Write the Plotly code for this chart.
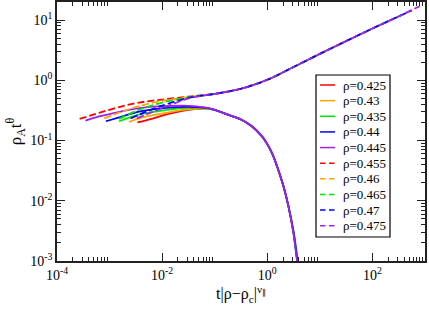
import plotly.graph_objects as go

# ---- data (x = t|rho-rho_c|^nu, y = rho_A t^theta) ----
labels = ["ρ=0.425", "ρ=0.43", "ρ=0.435", "ρ=0.44", "ρ=0.445",
          "ρ=0.455", "ρ=0.46", "ρ=0.465", "ρ=0.47", "ρ=0.475"]
colors = ["#FF0000", "#FFA500", "#00E600", "#0000FF", "#A020F0",
          "#FF0000", "#FFA500", "#00E600", "#0000FF", "#A020F0"]
dashed = [False, False, False, False, False, True, True, True, True, True]

# absorbing side (solid)
x_425 = [3.39e-3, 6.31e-3, 0.0126, 0.0316, 0.0631, 0.1, 0.178, 0.316, 0.501, 0.794, 1.0, 1.26, 1.58, 2.0, 2.51, 3.16, 3.55, 3.98]
y_425 = [0.200, 0.229, 0.275, 0.324, 0.339, 0.324, 0.269, 0.224, 0.174, 0.117, 0.0871, 0.0589, 0.0347, 0.0182, 0.00832, 0.00295, 0.00141, 0.000631]
x_430 = [2.34e-3, 3.63e-3, 8.71e-3, 0.0251, 0.0631, 0.1, 0.178, 0.316, 0.501, 0.794, 1.0, 1.26, 1.58, 2.0, 2.51, 3.16, 3.55, 3.98]
y_430 = [0.204, 0.234, 0.275, 0.324, 0.339, 0.324, 0.269, 0.224, 0.174, 0.117, 0.0871, 0.0589, 0.0347, 0.0182, 0.00832, 0.00295, 0.00141, 0.000631]
x_435 = [1.51e-3, 3.63e-3, 8.71e-3, 0.0251, 0.0631, 0.1, 0.178, 0.316, 0.501, 0.794, 1.0, 1.26, 1.58, 2.0, 2.51, 3.2, 3.62, 4.05]
y_435 = [0.209, 0.269, 0.309, 0.347, 0.347, 0.324, 0.269, 0.224, 0.174, 0.117, 0.0871, 0.0589, 0.0347, 0.0182, 0.00832, 0.00295, 0.00141, 0.000631]
x_440 = [8.51e-4, 1.58e-3, 3.63e-3, 8.71e-3, 0.0251, 0.0631, 0.1, 0.178, 0.316, 0.501, 0.794, 1.0, 1.26, 1.58, 2.0, 2.51, 3.16, 3.55, 3.98]
y_440 = [0.209, 0.245, 0.302, 0.339, 0.363, 0.351, 0.324, 0.269, 0.224, 0.174, 0.117, 0.0871, 0.0589, 0.0347, 0.0182, 0.00832, 0.00295, 0.00141, 0.000631]
x_445 = [3.47e-4, 6.31e-4, 1.26e-3, 3.16e-3, 0.01, 0.0251, 0.0631, 0.1, 0.178, 0.316, 0.501, 0.794, 1.0, 1.26, 1.58, 2.0, 2.51, 3.13, 3.5, 3.92]
y_445 = [0.214, 0.251, 0.288, 0.339, 0.372, 0.380, 0.355, 0.324, 0.269, 0.224, 0.174, 0.117, 0.0871, 0.0589, 0.0347, 0.0182, 0.00832, 0.00295, 0.00141, 0.000631]

# active side (dashed)
x_455 = [2.69e-4, 6.31e-4, 1.58e-3, 3.63e-3, 0.01, 0.0316, 0.1, 0.316, 1.0, 3.16, 10.0, 31.6, 70.8]
y_455 = [0.229, 0.288, 0.363, 0.427, 0.479, 0.537, 0.596, 0.724, 1.02, 1.66, 2.75, 4.47, 6.3]
x_460 = [7.94e-4, 1.58e-3, 3.63e-3, 0.01, 0.0316, 0.1, 0.316, 1.0, 3.16, 10.0, 31.6, 100.0, 200.0]
y_460 = [0.234, 0.295, 0.372, 0.457, 0.525, 0.596, 0.724, 1.02, 1.66, 2.75, 4.47, 7.24, 9.55]
x_465 = [1.51e-3, 3.63e-3, 0.01, 0.0316, 0.1, 0.316, 1.0, 3.16, 10.0, 31.6, 100.0, 372.0]
y_465 = [0.229, 0.324, 0.427, 0.519, 0.596, 0.724, 1.02, 1.66, 2.75, 4.47, 7.24, 12.3]
x_470 = [2.51e-3, 5.01e-3, 0.01, 0.0316, 0.1, 0.316, 1.0, 3.16, 10.0, 31.6, 100.0, 316.0, 562.0]
y_470 = [0.234, 0.302, 0.380, 0.513, 0.596, 0.724, 1.02, 1.66, 2.75, 4.47, 7.24, 11.5, 14.5]
x_475 = [3.31e-3, 6.31e-3, 0.0126, 0.0316, 0.0631, 0.1, 0.316, 1.0, 3.16, 10.0, 31.6, 100.0, 316.0, 794.0]
y_475 = [0.234, 0.295, 0.372, 0.501, 0.562, 0.596, 0.724, 1.02, 1.66, 2.75, 4.47, 7.24, 11.5, 17.0]

xs = [x_425, x_430, x_435, x_440, x_445, x_455, x_460, x_465, x_470, x_475]
ys = [y_425, y_430, y_435, y_440, y_445, y_455, y_460, y_465, y_470, y_475]

x_major = [1e-4, 1e-2, 1, 100]
x_major_text = ["10<sup>-4</sup>", "10<sup>-2</sup>", "10<sup>0</sup>", "10<sup>2</sup>"]
x_minor = [k * d for d in (1e-4, 1e-2, 1, 100) for k in range(2, 10)]
y_major = [1e-3, 1e-2, 1e-1, 1, 10]
y_major_text = ["10<sup>-3</sup>", "10<sup>-2</sup>", "10<sup>-1</sup>", "10<sup>0</sup>", "10<sup>1</sup>"]
y_minor = [k * d for d in (1e-3, 1e-2, 1e-1, 1, 10) for k in range(2, 10)]

FONT = "Liberation Serif"
W, H = 429, 310
ML, MR, MT, MB = 57, 4, 2, 49
PW, PH = W - ML - MR, H - MT - MB


def px(xp):
    return (xp - ML) / PW


def py(yp):
    return 1 - (yp - MT) / PH


fig = go.Figure()
for x, y, lab, c, d in zip(xs, ys, labels, colors, dashed):
    fig.add_trace(go.Scatter(
        x=x, y=y, name=lab, mode="lines", showlegend=False,
        line=dict(color=c, width=1.8, dash="7px,3px" if d else "solid", shape="spline", smoothing=0.8),
    ))

# legend box drawn as layout decoration (entries come from labels/colors lists)
shapes = [dict(type="rect", xref="paper", yref="paper",
               x0=px(316), x1=px(390), y0=py(237), y1=py(75),
               line=dict(color="black", width=1.2), fillcolor="white", layer="above")]
annotations = []
for i, (lab, c, d) in enumerate(zip(labels, colors, dashed)):
    yc = 85 + 15.64 * i
    shapes.append(dict(type="line", xref="paper", yref="paper",
                       x0=px(320), x1=px(335), y0=py(yc), y1=py(yc),
                       line=dict(color=c, width=1.5, dash="5.5px,3.5px" if d else "solid"), layer="above"))
    annotations.append(dict(xref="paper", yref="paper", x=px(341), y=py(yc),
                            xanchor="left", yanchor="middle", showarrow=False,
                            text=lab, font=dict(family=FONT, size=13, color="black")))

axis_common = dict(
    type="log", showgrid=False, zeroline=False, automargin=False,
    showline=True, linecolor="#222222", linewidth=1.5, mirror="ticks",
    ticks="inside", ticklen=8, tickwidth=1.2, tickcolor="#222222",
    tickfont=dict(family=FONT, size=14, color="black"),
)

fig.update_layout(
    width=W, height=H,
    margin=dict(l=ML, r=MR, t=MT, b=MB),
    paper_bgcolor="white", plot_bgcolor="white",
    font=dict(family=FONT, color="black"),
    xaxis=dict(**axis_common, range=[-4, 3], tickmode="array",
               tickvals=x_major, ticktext=x_major_text,
               minor=dict(tickmode="array", tickvals=x_minor, ticks="inside", ticklen=4, tickwidth=1, tickcolor="#222222"),
               title=dict(text="t|ρ−ρ<sub>c</sub>|<sup>ν<sub>∥</sub></sup>", font=dict(family=FONT, size=16), standoff=2)),
    yaxis=dict(**axis_common, range=[-3, 1.3], tickmode="array",
               tickvals=y_major, ticktext=y_major_text,
               minor=dict(tickmode="array", tickvals=y_minor, ticks="inside", ticklen=4, tickwidth=1, tickcolor="#222222"),
               title=dict(text="ρ<sub>A</sub>t<sup>θ</sup>", font=dict(family=FONT, size=17), standoff=4)),
    shapes=shapes,
    annotations=annotations,
    showlegend=False,
)

fig.write_html("out.html", config={"displayModeBar": False},
               post_script="document.body.style.margin='0px';")
